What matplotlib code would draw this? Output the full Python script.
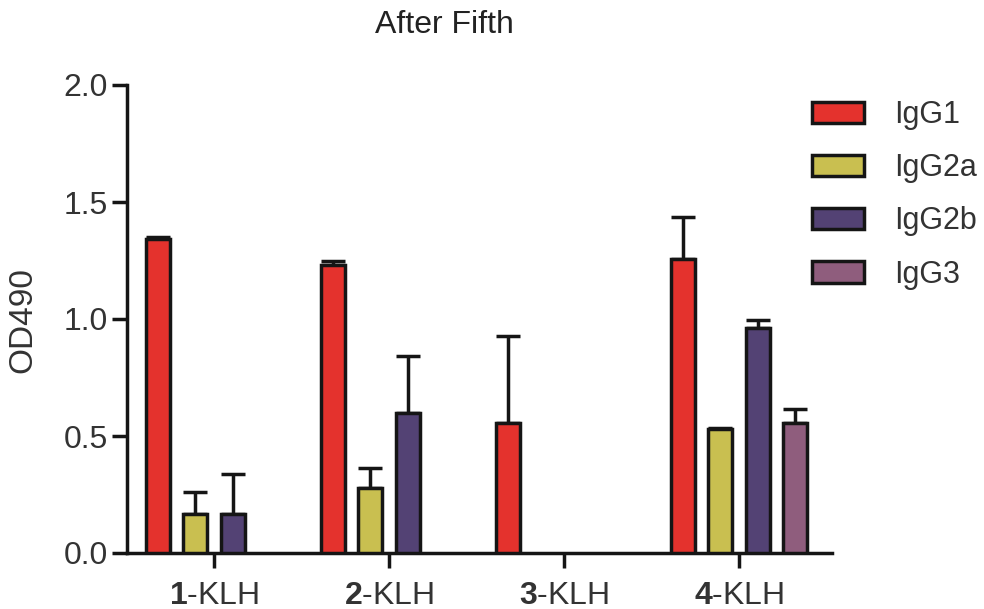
import numpy as np
import matplotlib
matplotlib.use("Agg")
import matplotlib.pyplot as plt

plt.rcParams['font.family'] = ['Liberation Sans', 'DejaVu Sans']
plt.rcParams['mathtext.fontset'] = 'custom'
plt.rcParams['mathtext.rm'] = 'Liberation Sans'
plt.rcParams['mathtext.bf'] = 'Liberation Sans:bold'

# ---- data ----
title = "After Fifth"
ylabel = "OD490"
groups = ["1", "2", "3", "4"]
group_suffix = "-KLH"
series = ["IgG1", "IgG2a", "IgG2b", "IgG3"]
igg1 = [1.342, 1.231, 0.557, 1.256]
igg2a = [0.167, 0.278, 0.0, 0.530]
igg2b = [0.167, 0.600, 0.0, 0.963]
igg3 = [0.0, 0.0, 0.0, 0.557]
igg1_err = [0.010, 0.018, 0.370, 0.181]
igg2a_err = [0.094, 0.087, 0.0, 0.004]
igg2b_err = [0.171, 0.242, 0.0, 0.033]
igg3_err = [0.0, 0.0, 0.0, 0.058]
colors = ["#E4322D", "#C9BF50", "#534274", "#8F5D7D"]
yticks = [0.0, 0.5, 1.0, 1.5, 2.0]

values = [igg1, igg2a, igg2b, igg3]
errors = [igg1_err, igg2a_err, igg2b_err, igg3_err]

fig = plt.figure(figsize=(9.84, 6.09), dpi=100)
W, H = 984, 609
ax = fig.add_axes([127 / W, 1 - 553 / H, (832 - 127) / W, (553 - 85) / H])

x = np.arange(len(groups))
step = 0.213
width = 0.137
lw = 2.5
for i, (name, vals, errs, c) in enumerate(zip(series, values, errors, colors)):
    pos = x + (i - 1.5) * step
    v = np.array(vals)
    e = np.array(errs)
    mask = v > 0
    ax.bar(pos[mask], v[mask], width=width, color=c, edgecolor="#151515",
           linewidth=lw, label=name, zorder=3)
    ax.errorbar(pos[mask], v[mask], yerr=[np.zeros(mask.sum()), e[mask]],
                fmt="none", ecolor="#151515", elinewidth=lw, capsize=8.4,
                capthick=lw, zorder=2)

ax.set_xlim(-0.497, 3.531)
ax.set_ylim(0, 2.0)
ax.set_yticks(yticks)
ax.set_yticklabels([f"{t:.1f}" for t in yticks])
ax.set_xticks(x)
ax.set_xticklabels([f"$\\mathbf{{{g}}}$" + group_suffix for g in groups])

for s in ["top", "right"]:
    ax.spines[s].set_visible(False)
for s in ["left", "bottom"]:
    ax.spines[s].set_linewidth(lw)
    ax.spines[s].set_color("#151515")

ax.tick_params(axis="y", length=10.8, width=lw, pad=3, labelsize=23,
               colors="#151515", labelcolor="#333333")
ax.tick_params(axis="x", length=10.8, width=lw, pad=9, labelsize=23,
               colors="#151515", labelcolor="#333333")

ax.set_ylabel(ylabel, fontsize=24, color="#333333")
ax.yaxis.set_label_coords(-0.1255, 0.497)

ax.text((444 - 127) / (832 - 127), (553 - 33) / (553 - 85), title,
        transform=ax.transAxes, ha="center", va="baseline", fontsize=23,
        color="#222222")

leg = fig.legend(loc="upper left", bbox_to_anchor=(812 / W, 1 - 100 / H),
                 frameon=False, fontsize=22, handlelength=1.7,
                 handleheight=0.69, handletextpad=1.0, labelspacing=0.76,
                 borderpad=0, borderaxespad=0)
for t in leg.get_texts():
    t.set_color("#333333")

fig.savefig("out.png", dpi=100)
